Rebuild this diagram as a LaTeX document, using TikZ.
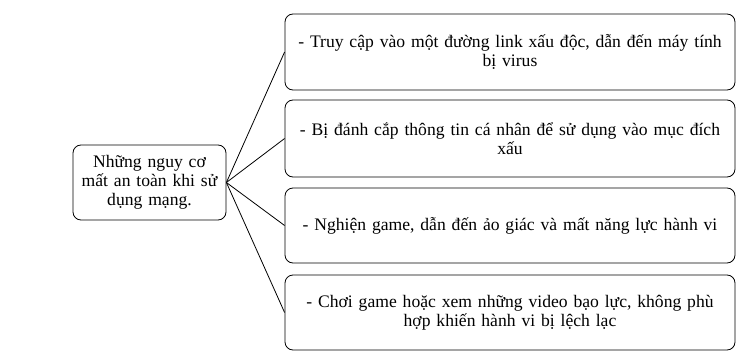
\documentclass[tikz,border=0pt]{standalone}
\usepackage{fontspec}
\setmainfont{Liberation Serif}
\begin{document}
\begin{tikzpicture}[x=1pt,y=-1pt,
  box/.style={draw, line width=0.8pt, rounded corners=8pt, align=center, inner sep=0pt,
    font=\fontsize{17.6}{19}\selectfont},
  link/.style={line width=0.8pt}]
\useasboundingbox (0,0) rectangle (755,356);
\node[box, minimum width=153pt, minimum height=75pt, text width=150pt] (L) at (149.5,182.5) {Những nguy cơ\\mất an toàn khi sử\\dụng mạng.};
\node[box, minimum width=450pt, minimum height=76pt, text width=446pt] (A) at (510,52) {- Truy cập vào một đường link xấu độc, dẫn đến máy tính\\bị virus};
\node[box, minimum width=450pt, minimum height=77pt, text width=446pt] (B) at (510,138.5) {- Bị đánh cắp thông tin cá nhân để sử dụng vào mục đích\\xấu};
\node[box, minimum width=450pt, minimum height=75pt, text width=446pt] (C) at (510,225.5) {- Nghiện game, dẫn đến ảo giác và mất năng lực hành vi};
\node[box, minimum width=450pt, minimum height=75pt, text width=446pt] (D) at (510,312.5) {- Chơi game hoặc xem những video bạo lực, không phù\\hợp khiến hành vi bị lệch lạc};
\foreach \t in {A,B,C,D} \draw[link] (L.east) -- (\t.west);
\end{tikzpicture}
\end{document}
